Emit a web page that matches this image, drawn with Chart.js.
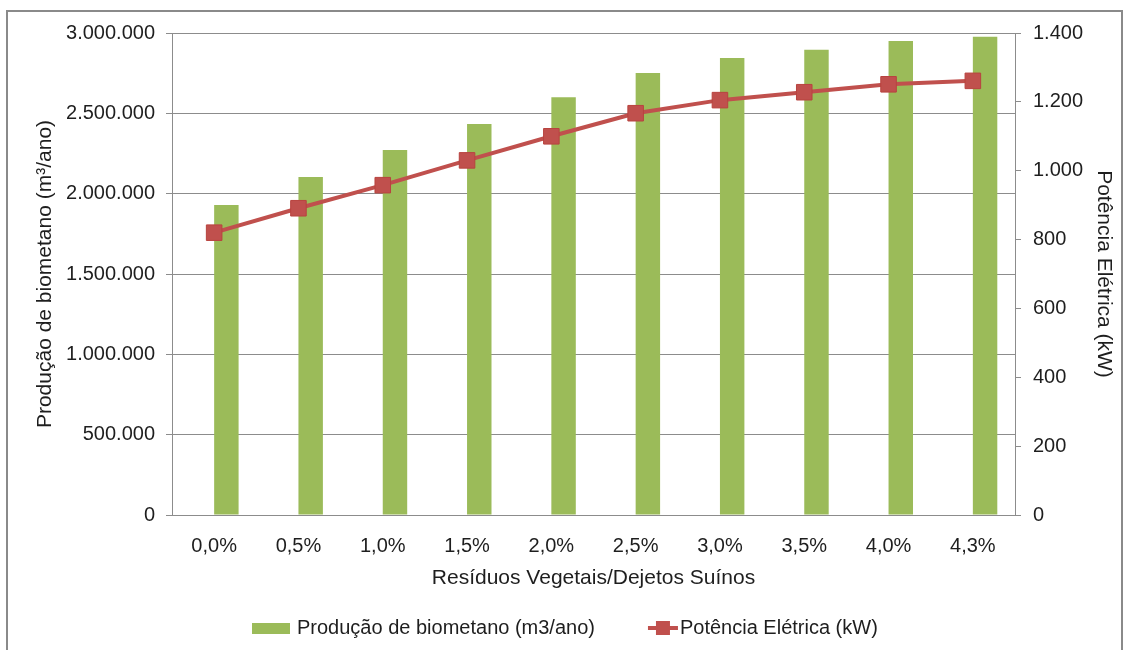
<!DOCTYPE html>
<html>
<head>
<meta charset="utf-8">
<script src="https://cdn.jsdelivr.net/npm/chart.js@4.4.1/dist/chart.umd.min.js"></script>
<style>
  html, body { margin: 0; padding: 0; background: #fff; }
  #wrap { position: relative; width: 1129px; height: 650px; }
</style>
</head>
<body>
<div id="wrap"><canvas id="c"></canvas></div>
<script>
// ---- data ----
const categories = ['0,0%', '0,5%', '1,0%', '1,5%', '2,0%', '2,5%', '3,0%', '3,5%', '4,0%', '4,3%'];
const biometano = [1930000, 2104000, 2272000, 2434000, 2600000, 2751000, 2845000, 2895000, 2950000, 2977000];
const potencia = [820, 891, 958, 1030, 1100, 1167, 1205, 1228, 1251, 1261];
const spacer = [null, null, null, null, null, null, null, null, null, null]; // empty bar slot (bars sit right of category centre)
const seriesNames = ['Produção de biometano (m3/ano)', 'Potência Elétrica (kW)'];
const axisTitles = ['Produção de biometano (m³/ano)', 'Potência Elétrica (kW)', 'Resíduos Vegetais/Dejetos Suínos'];

const GREEN = '#9BBB59';
const RED = '#C0504D';
const GRID = '#8c8c8c';
const TEXT = '#1e1e1e';
const SANS = "'Liberation Sans', Arial, sans-serif";

function fmt(v) {
  return String(Math.round(v)).replace(/\B(?=(\d{3})+(?!\d))/g, '.');
}

const framePlugin = {
  id: 'frame',
  afterDraw(chart) {
    const ctx = chart.ctx;
    ctx.save();
    // outer frame
    ctx.strokeStyle = '#8a8a8a';
    ctx.lineWidth = 2;
    ctx.strokeRect(7, 11, 1115, 645);
    // legend
    const y = 628;
    ctx.font = '20px ' + SANS;
    ctx.textBaseline = 'middle';
    ctx.textAlign = 'left';
    let x = 252;
    ctx.fillStyle = GREEN;
    ctx.fillRect(x, y - 5, 38, 11);
    x += 45;
    ctx.fillStyle = TEXT;
    ctx.fillText(seriesNames[0], x, y);
    x += ctx.measureText(seriesNames[0]).width + 53;
    ctx.strokeStyle = RED;
    ctx.lineWidth = 4;
    ctx.beginPath();
    ctx.moveTo(x, y);
    ctx.lineTo(x + 30, y);
    ctx.stroke();
    ctx.fillStyle = RED;
    ctx.fillRect(x + 15 - 7, y - 7, 14, 14);
    x += 32;
    ctx.fillStyle = TEXT;
    ctx.fillText(seriesNames[1], x, y);
    ctx.restore();
  }
};

new Chart(document.getElementById('c'), {
  data: {
    labels: categories,
    datasets: [
      {
        type: 'line',
        label: seriesNames[1],
        data: potencia,
        yAxisID: 'y1',
        borderColor: RED,
        backgroundColor: RED,
        borderWidth: 4,
        pointStyle: 'rect',
        pointRadius: 11,
        pointBackgroundColor: RED,
        pointBorderColor: '#b8433f',
        pointBorderWidth: 1,
        tension: 0,
        order: 0
      },
      {
        type: 'bar',
        label: '',
        data: spacer,
        yAxisID: 'y',
        backgroundColor: 'rgba(0,0,0,0)',
        borderWidth: 0,
        barPercentage: 1,
        categoryPercentage: 0.58,
        order: 1
      },
      {
        type: 'bar',
        label: seriesNames[0],
        data: biometano,
        yAxisID: 'y',
        backgroundColor: GREEN,
        borderWidth: 0,
        barPercentage: 1,
        categoryPercentage: 0.58,
        order: 2
      }
    ]
  },
  options: {
    responsive: true,
    maintainAspectRatio: false,
    animation: false,
    layout: { padding: { left: 25, right: 10, top: 33, bottom: 50 } },
    plugins: {
      legend: { display: false },
      tooltip: { enabled: false }
    },
    scales: {
      x: {
        grid: { display: false, drawTicks: false },
        border: { display: true, color: GRID, width: 1 },
        ticks: { color: TEXT, font: { family: SANS, size: 20 }, padding: 19 },
        title: { display: true, text: axisTitles[2], color: TEXT, font: { family: SANS, size: 21 }, padding: { top: 0, bottom: 9 } },
        afterFit(s) { s.height = 85; }
      },
      y: {
        position: 'left',
        min: 0, max: 3000000,
        ticks: { stepSize: 500000, color: TEXT, font: { family: SANS, size: 20 }, padding: 11, callback: v => fmt(v) },
        grid: { color: GRID, lineWidth: 1, tickLength: 6 },
        border: { display: true, color: GRID, width: 1 },
        title: { display: true, text: axisTitles[0], color: TEXT, font: { family: SANS, size: 21 }, padding: { top: 8, bottom: 0 } },
        afterFit(s) { s.width = 147; }
      },
      y1: {
        position: 'right',
        min: 0, max: 1400,
        ticks: { stepSize: 200, color: TEXT, font: { family: SANS, size: 20 }, padding: 12, callback: v => fmt(v) },
        grid: { drawOnChartArea: false, color: GRID, tickLength: 6 },
        border: { display: true, color: GRID, width: 1 },
        title: { display: true, text: axisTitles[1], color: TEXT, font: { family: SANS, size: 21 }, padding: { top: 3, bottom: 0 } },
        afterFit(s) { s.width = 104; }
      }
    }
  },
  plugins: [framePlugin]
});
</script>
</body>
</html>
